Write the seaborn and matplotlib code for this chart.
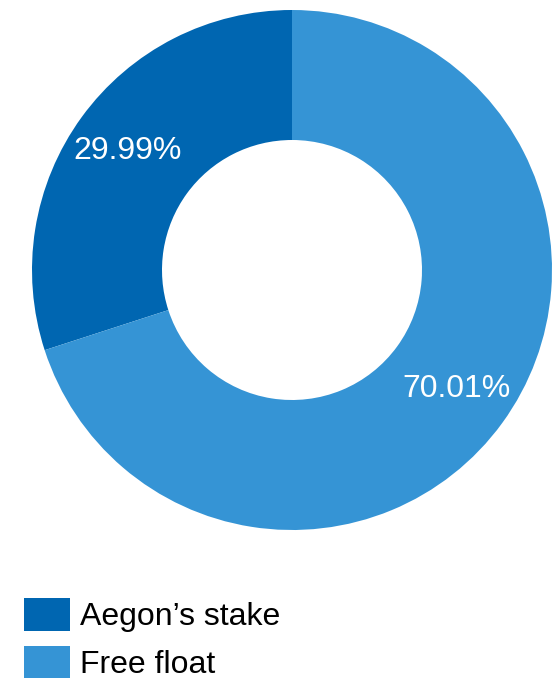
import matplotlib
matplotlib.use("Agg")
import matplotlib.pyplot as plt
from matplotlib.patches import Patch
import seaborn as sns

# Aandeelhoudersstructuur
labels = ["Aegon’s stake", "Free float"]
shares = [29.99, 70.01]
colors = ["#0066B1", "#3594D5"]

sns.set_theme(style="white")
plt.rcParams['font.family'] = ['Liberation Sans', 'DejaVu Sans']

fig = plt.figure(figsize=(5.52, 6.8), dpi=100)
W, H = 552, 680
# donut: centre (292, 270), straal 260 px
ax = fig.add_axes([(292 - 260) / W, (H - 530) / H, 520 / W, 520 / H])

wedges, texts, autotexts = ax.pie(
    shares, colors=colors, startangle=90, counterclock=True,
    radius=1.0, wedgeprops=dict(width=0.5, linewidth=0),
    autopct=lambda p: f"{p:.2f}%", pctdistance=0.78,
    textprops=dict(color="white", fontsize=23),
)
ax.set_xlim(-1, 1)
ax.set_ylim(-1, 1)
ax.set_aspect("equal")
ax.axis("off")

handles = [Patch(facecolor=c, edgecolor="none") for c in colors]
fig.legend(handles, labels, loc="upper left",
           bbox_to_anchor=(24 / W, 1 - 598 / H), frameon=False,
           fontsize=23, labelcolor="black", handlelength=1.44, handleheight=1.2,
           handletextpad=0.3, labelspacing=0.42, borderpad=0, borderaxespad=0)

plt.savefig("out.png", dpi=100)
plt.close()
